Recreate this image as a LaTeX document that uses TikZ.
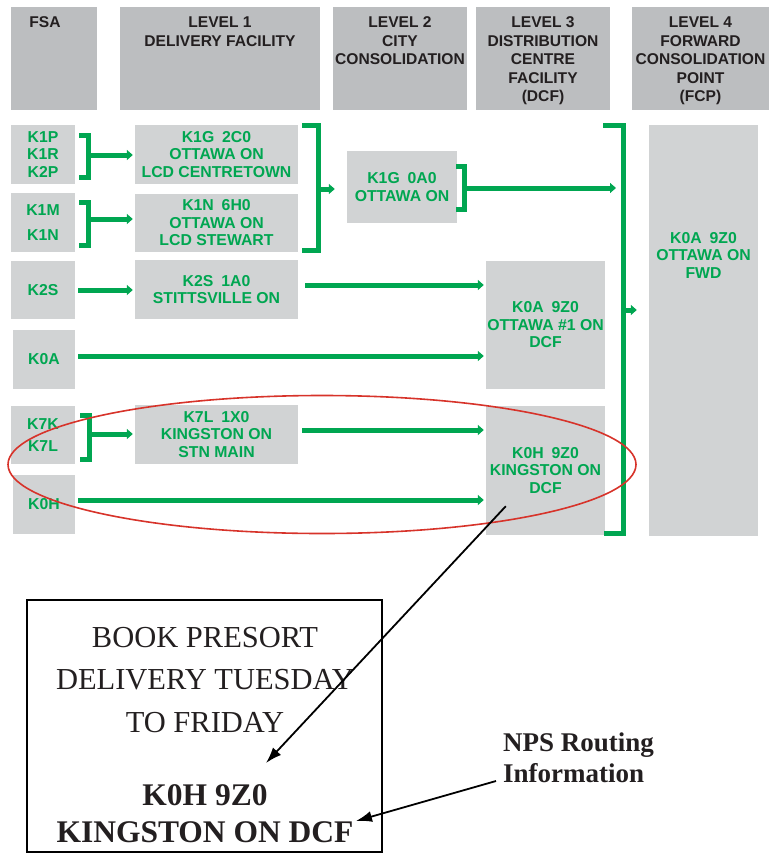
\documentclass[tikz,border=0pt]{standalone}
\usepackage{fontspec}
\setmainfont{Liberation Serif}
\setsansfont{Liberation Sans}
\usepackage{tikz}
\usetikzlibrary{arrows.meta}
\definecolor{cpgreen}{HTML}{00A651}
\definecolor{hdgray}{HTML}{BCBEC0}
\definecolor{rwgray}{HTML}{D1D3D4}
\definecolor{hdtext}{HTML}{231F20}
\definecolor{loopred}{HTML}{D7332A}
\newcommand\grnfont{\sffamily\bfseries\fontsize{15.8}{17.5}\selectfont}
\newcommand\hdfont{\sffamily\bfseries\fontsize{15.6}{18.5}\selectfont}
\tikzstyle{head}=[rectangle, fill=hdgray, inner sep=0, minimum height=103pt]
\tikzstyle{htxt}=[text=hdtext, font=\hdfont, align=center, inner sep=0,
  anchor=north, yshift=-10pt]
\tikzstyle{row}=[rectangle, fill=rwgray, inner sep=0, text=cpgreen,
  font=\grnfont, align=center]
\tikzstyle{gline}=[draw=cpgreen, line width=5pt]
\tikzstyle{garrow}=[draw=cpgreen, line width=5pt,
  -{Triangle[width=10pt,length=6pt]}]
\tikzstyle{barrow}=[draw=black, line width=1.8pt,
  -{Latex[width=11pt,length=16pt]}]
\begin{document}
\begin{tikzpicture}[x=1pt, y=-1pt]
  \useasboundingbox (0,0) rectangle (774,854);
  % column heads
  \node [head, minimum width=86pt, label={[htxt, xshift=-9pt]north:FSA}]
    (fsa) at (54,58.5) {};
  \node [head, minimum width=200pt,
    label={[htxt]north:{LEVEL 1\\DELIVERY FACILITY}}] (lv1) at (220,58.5) {};
  \node [head, minimum width=134pt,
    label={[htxt]north:{LEVEL 2\\CITY\\CONSOLIDATION}}] (lv2) at (400,58.5) {};
  \node [head, minimum width=134pt,
    label={[htxt]north:{LEVEL 3\\DISTRIBUTION\\CENTRE\\FACILITY\\(DCF)}}]
    (lv3) at (543,58.5) {};
  \node [head, minimum width=137pt,
    label={[htxt]north:{LEVEL 4\\FORWARD\\CONSOLIDATION\\POINT\\(FCP)}}]
    (lv4) at (700.5,58.5) {};

  % FSA column
  \node [row, minimum width=64pt, minimum height=59pt] (f1) at (43,154.5)
    {K1P\\K1R\\K2P};
  \node [row, minimum width=64pt, minimum height=59pt] (f2) at (43,222.5)
    {K1M\\[8pt]K1N};
  \node [row, minimum width=64pt, minimum height=58pt] (f3) at (43,290) {K2S};
  \node [row, minimum width=62pt, minimum height=59pt] (f4) at (44,359.5) {K0A};
  \node [row, minimum width=64pt, minimum height=58pt] (f5) at (43,435)
    {K7K\\[5pt]K7L};
  \node [row, minimum width=62pt, minimum height=59pt] (f6) at (44,504.5) {K0H};

  % delivery facilities
  \node [row, minimum width=163pt, minimum height=59pt] (d1) at (216.5,154.5)
    {K1G\enspace2C0\\OTTAWA ON\\LCD CENTRETOWN};
  \node [row, minimum width=163pt, minimum height=58pt] (d2) at (216.5,223)
    {K1N\enspace6H0\\OTTAWA ON\\LCD STEWART};
  \node [row, minimum width=163pt, minimum height=59pt] (d3) at (216.5,289.5)
    {K2S\enspace1A0\\STITTSVILLE ON};
  \node [row, minimum width=163pt, minimum height=59pt] (d4) at (216.5,434.5)
    {K7L\enspace1X0\\KINGSTON ON\\STN MAIN};

  % city consolidation, DCF, FCP
  \node [row, minimum width=110pt, minimum height=72pt] (c1) at (402,187)
    {K1G\enspace0A0\\OTTAWA ON};
  \node [row, minimum width=119pt, minimum height=128pt] (x1) at (545.5,325)
    {K0A\enspace9Z0\\OTTAWA \#1 ON\\DCF};
  \node [row, minimum width=119pt, minimum height=129pt] (x2) at (545.5,470.5)
    {K0H\enspace9Z0\\KINGSTON ON\\DCF};
  \node [row, minimum width=109pt, minimum height=411pt,
    label={[row, fill=none, anchor=north, yshift=-107pt]north:{K0A\enspace9Z0\\OTTAWA ON\\FWD}}]
    (w1) at (703.5,330.5) {};

  % brackets
  \draw [gline] (79,135) -| (88.5,177.5) -- (79,177.5);
  \coordinate (b1) at (88.5,155);
  \draw [gline] (79,202) -| (88.5,245) -- (79,245);
  \coordinate (b2) at (88.5,219);
  \draw [gline] (302,125) -| (318.5,250.5) -- (302,250.5);
  \coordinate (b3) at (318.5,189);
  \draw [gline] (456,166) -| (464.5,209.5) -- (456,209.5);
  \coordinate (b4) at (464.5,188);
  \draw [gline] (80,415) -| (89,459.5) -- (80,459.5);
  \coordinate (b5) at (89,434);
  \draw [gline] (603,125.5) -| (623,533) -- (604,533);
  \coordinate (b6) at (623,310);

  \draw [garrow, shorten >=2pt] (b1) -- (b1 -| d1.west);
  \draw [garrow, shorten >=2pt] (b2) -- (b2 -| d2.west);
  \draw [garrow, shorten >=12pt] (b3) -- (b3 -| c1.west);
  \draw [garrow, shorten >=7pt] (b4) -- (b4 -| b6);
  \draw [garrow, shorten >=2pt] (b5) -- (b5 -| d4.west);
  \draw [garrow, shorten >=12pt] (b6) -- (b6 -| w1.west);

  \draw [garrow, shorten <=3pt, shorten >=2pt] (f3.east) -- (f3.east -| d3.west);
  \draw [garrow, shorten <=7pt, shorten >=2pt]
    ([yshift=4.5pt]d3.east) -- ([yshift=4.5pt]d3.east -| x1.west);
  \draw [garrow, shorten <=3pt, shorten >=2pt]
    ([yshift=3.5pt]f4.east) -- ([yshift=3.5pt]f4.east -| x1.west);
  \draw [garrow, shorten <=4pt, shorten >=2pt]
    ([yshift=4.5pt]d4.east) -- ([yshift=4.5pt]d4.east -| x2.west);
  \draw [garrow, shorten <=3pt, shorten >=2pt]
    ([yshift=4.5pt]f6.east) -- ([yshift=4.5pt]f6.east -| x2.west);

  % Kingston loop
  \draw [loopred, line width=1.6pt] (322,464.5) ellipse [x radius=314, y radius=69];

  % label sample
  \node [draw, line width=2pt, minimum width=355pt, minimum height=252pt,
    inner sep=0] (card) at (204.5,726) {};
  \node [text=hdtext, font=\fontsize{30.5}{42.5}\selectfont, align=center,
    inner sep=0] (t1) at (205,680) {BOOK PRESORT\\DELIVERY TUESDAY\\TO FRIDAY};
  \node [text=hdtext, font=\bfseries\fontsize{31.5}{37}\selectfont, align=center,
    inner sep=0] (t2) at (205,813.5) {K0H 9Z0\\KINGSTON ON DCF};
  \node [text=hdtext, font=\bfseries\fontsize{27}{31}\selectfont, align=left,
    anchor=north west, inner sep=0] (nps) at (503,733) {NPS Routing\\Information};

  \coordinate (p1) at ([shift={(20,-29)}]x2.south west);
  \coordinate (p2) at (266,763);
  \draw [barrow] (p1) -- (p2);
  \coordinate (p3) at ([shift={(-7,48)}]nps.north west);
  \coordinate (p4) at (356,821);
  \draw [barrow] (p3) -- (p4);
\end{tikzpicture}
\end{document}
